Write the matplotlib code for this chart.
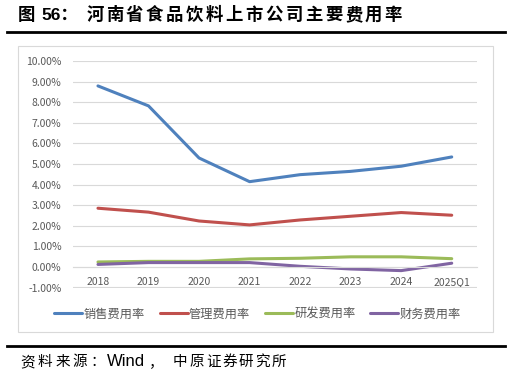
import matplotlib
matplotlib.use('Agg')
import matplotlib.pyplot as plt
from matplotlib.patches import Rectangle
from matplotlib.lines import Line2D
from matplotlib.ticker import FuncFormatter

plt.rcParams['font.family'] = ['Noto Sans CJK SC', 'DejaVu Sans']

# 数据（%）
years = ['2018', '2019', '2020', '2021', '2022', '2023', '2024', '2025Q1']
sales_rate = [8.79, 7.82, 5.29, 4.14, 4.48, 4.64, 4.89, 5.34]
admin_rate = [2.85, 2.66, 2.23, 2.04, 2.28, 2.46, 2.64, 2.51]
rd_rate = [0.24, 0.27, 0.27, 0.39, 0.42, 0.49, 0.49, 0.40]
fin_rate = [0.12, 0.21, 0.21, 0.21, 0.03, -0.10, -0.18, 0.18]
series_names = ['销售费用率', '管理费用率', '研发费用率', '财务费用率']
colors = ['#4F81BD', '#C0504D', '#9BBB59', '#8064A2']

W, H = 511, 378
fig = plt.figure(figsize=(W / 100, H / 100), dpi=100)


def spaced(text, x0, pitch, y, **kw):
    # 逐字放置，模拟原图较宽的字距
    for i, ch in enumerate(text):
        fig.text((x0 + pitch * (i + 0.5)) / W, 1 - y / H, ch,
                 ha='center', va='center', **kw)


# 标题与分隔线
spaced('图', 18, 16, 15, fontsize=12.5, fontweight='bold')
fig.text(41 / W, 1 - 15 / H, '56：', fontsize=12.5, fontweight='bold',
         family=['Liberation Sans', 'Noto Sans CJK SC'], ha='left', va='center')
spaced('河南省食品饮料上市公司主要费用率', 85, 19.9, 15, fontsize=12.5, fontweight='bold')
fig.add_artist(Line2D([7 / W, 505 / W], [1 - 31.5 / H] * 2, color='black', lw=2))
fig.add_artist(Line2D([7 / W, 505 / W], [1 - 345.7 / H] * 2, color='black', lw=2))

# 资料来源
spaced('资料来源：', 19, 17.4, 362, fontsize=10.5)
fig.text(107 / W, 1 - 362 / H, 'Wind', fontsize=12, family='Liberation Sans',
         ha='left', va='center')
spaced('，', 148, 16, 362, fontsize=10.5)
spaced('中原证券研究所', 172, 16.5, 362, fontsize=10.5)

# 图表外框
fig.add_artist(Rectangle((17.5 / W, 1 - 332 / H), 475 / W, 286 / H,
                         transform=fig.transFigure, fill=False,
                         edgecolor='#D9D9D9', lw=0.8))

ax = fig.add_axes([72.7 / W, 1 - 287.5 / H, 404.3 / W, 226.5 / H])
x = range(len(years))
for vals, name, c in zip([sales_rate, admin_rate, rd_rate, fin_rate], series_names, colors):
    ax.plot(x, vals, color=c, lw=2.2, label=name, solid_capstyle='round')

ax.set_xlim(-0.5, len(years) - 0.5)
ax.set_ylim(-1, 10)
ax.set_yticks(range(-1, 11))
ax.yaxis.set_major_formatter(FuncFormatter(lambda v, p: f'{v:.2f}%'))
ax.set_xticks(list(x))
ax.set_xticklabels(years)
ax.grid(axis='y', color='#D9D9D9', lw=0.8)
ax.set_axisbelow(True)
for s in ['top', 'right', 'left']:
    ax.spines[s].set_visible(False)
ax.spines['bottom'].set_position(('data', 0))
ax.spines['bottom'].set_color('#D9D9D9')
ax.spines['bottom'].set_linewidth(0.8)
ax.tick_params(axis='both', length=0, labelsize=7.5, labelcolor='#595959')
ax.tick_params(axis='y', pad=8)
ax.tick_params(axis='x', pad=7)

fig.legend(loc='center', bbox_to_anchor=(257.5 / W, 1 - 314 / H), ncol=4,
           frameon=False, fontsize=8.8, handlelength=2.3, columnspacing=1.2,
           handletextpad=0.1, labelcolor='#595959')

fig.savefig('out.png', dpi=100)
